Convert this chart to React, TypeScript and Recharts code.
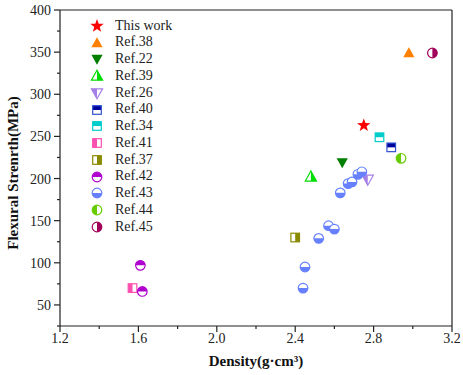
import React from "react";
import {
  ScatterChart,
  Scatter,
  XAxis,
  YAxis,
  ReferenceLine,
  Legend,
} from "recharts";

const FONT = "Liberation Serif, Times New Roman, serif";
const AXIS = "#222";

// ticks (minor + major)
const X_TICKS = [1.2, 1.4, 1.6, 1.8, 2.0, 2.2, 2.4, 2.6, 2.8, 3.0, 3.2];
const Y_TICKS = [25, 50, 75, 100, 125, 150, 175, 200, 225, 250, 275, 300, 325, 350, 375, 400];

// density (g/cm3) vs flexural strength (MPa)
const THIS_WORK = [{ x: 2.75, y: 263 }];
const REF38 = [{ x: 2.98, y: 349 }];
const REF22 = [{ x: 2.64, y: 219 }];
const REF39 = [{ x: 2.48, y: 202 }];
const REF26 = [{ x: 2.77, y: 199 }];
const REF40 = [{ x: 2.89, y: 237 }];
const REF34 = [{ x: 2.83, y: 249 }];
const REF41 = [{ x: 1.57, y: 70 }];
const REF37 = [{ x: 2.4, y: 130 }];
const REF42 = [
  { x: 1.61, y: 97 },
  { x: 1.62, y: 66 },
];
const REF43 = [
  { x: 2.44, y: 70 },
  { x: 2.45, y: 95 },
  { x: 2.52, y: 129 },
  { x: 2.57, y: 144 },
  { x: 2.6, y: 140 },
  { x: 2.63, y: 183 },
  { x: 2.67, y: 194 },
  { x: 2.69, y: 196 },
  { x: 2.72, y: 205 },
  { x: 2.74, y: 208 },
];
const REF44 = [{ x: 2.94, y: 224 }];
const REF45 = [{ x: 3.1, y: 349 }];

type Shape = "star" | "triUp" | "triDown" | "square" | "circle";
type Half = "full" | "top" | "bottom" | "left" | "right";

const SERIES: {
  name: string;
  data: { x: number; y: number }[];
  shape: Shape;
  half: Half;
  color: string;
  stroke?: string;
}[] = [
  { name: "This work", data: THIS_WORK, shape: "star", half: "full", color: "#FF0000" },
  { name: "Ref.38", data: REF38, shape: "triUp", half: "full", color: "#FF8000" },
  { name: "Ref.22", data: REF22, shape: "triDown", half: "full", color: "#007F00" },
  { name: "Ref.39", data: REF39, shape: "triUp", half: "right", color: "#00DD00" },
  { name: "Ref.26", data: REF26, shape: "triDown", half: "left", color: "#A67FE6" },
  { name: "Ref.40", data: REF40, shape: "square", half: "top", color: "#00009C", stroke: "#3050D0" },
  { name: "Ref.34", data: REF34, shape: "square", half: "top", color: "#00CCCC" },
  { name: "Ref.41", data: REF41, shape: "square", half: "left", color: "#FF4FAF" },
  { name: "Ref.37", data: REF37, shape: "square", half: "right", color: "#8A8A00" },
  { name: "Ref.42", data: REF42, shape: "circle", half: "top", color: "#B000D0" },
  { name: "Ref.43", data: REF43, shape: "circle", half: "bottom", color: "#6680FF" },
  { name: "Ref.44", data: REF44, shape: "circle", half: "left", color: "#66CC00" },
  { name: "Ref.45", data: REF45, shape: "circle", half: "right", color: "#A0005A" },
];

function Marker({
  cx,
  cy,
  shape,
  half,
  color,
  stroke,
}: {
  cx: number;
  cy: number;
  shape: Shape;
  half: Half;
  color: string;
  stroke?: string;
}) {
  const line = stroke || color;
  const sw = 1.2;

  if (shape === "star") {
    const pts: string[] = [];
    for (let i = 0; i < 10; i++) {
      const r = i % 2 === 0 ? 7 : 2.9;
      const a = -Math.PI / 2 + (i * Math.PI) / 5;
      pts.push(`${cx + r * Math.cos(a)},${cy + r * Math.sin(a)}`);
    }
    return <polygon points={pts.join(" ")} fill={color} />;
  }

  if (shape === "circle") {
    const r = 4.8;
    let d = "";
    if (half === "top") d = `M${cx - r},${cy} A${r},${r} 0 0 1 ${cx + r},${cy} Z`;
    if (half === "bottom") d = `M${cx - r},${cy} A${r},${r} 0 0 0 ${cx + r},${cy} Z`;
    if (half === "left") d = `M${cx},${cy - r} A${r},${r} 0 0 0 ${cx},${cy + r} Z`;
    if (half === "right") d = `M${cx},${cy - r} A${r},${r} 0 0 1 ${cx},${cy + r} Z`;
    return (
      <g>
        <circle cx={cx} cy={cy} r={r} fill={half === "full" ? color : "#fff"} />
        {d && <path d={d} fill={color} />}
        <circle cx={cx} cy={cy} r={r} fill="none" stroke={line} strokeWidth={sw} />
      </g>
    );
  }

  if (shape === "square") {
    const s = 4.3;
    let part = null;
    if (half === "top") part = <rect x={cx - s} y={cy - s} width={2 * s} height={s} fill={color} />;
    if (half === "bottom") part = <rect x={cx - s} y={cy} width={2 * s} height={s} fill={color} />;
    if (half === "left") part = <rect x={cx - s} y={cy - s} width={s} height={2 * s} fill={color} />;
    if (half === "right") part = <rect x={cx} y={cy - s} width={s} height={2 * s} fill={color} />;
    return (
      <g>
        <rect x={cx - s} y={cy - s} width={2 * s} height={2 * s} fill={half === "full" ? color : "#fff"} />
        {part}
        <rect x={cx - s} y={cy - s} width={2 * s} height={2 * s} fill="none" stroke={line} strokeWidth={sw} />
      </g>
    );
  }

  // triangles
  const w = 5.6;
  const h1 = 5.8;
  const h2 = 4.2;
  const up = shape === "triUp";
  const apex = up ? [cx, cy - h1] : [cx, cy + h1];
  const by = up ? cy + h2 : cy - h2;
  const full = `${apex[0]},${apex[1]} ${cx + w},${by} ${cx - w},${by}`;
  let halfPts = "";
  if (half === "right") halfPts = `${apex[0]},${apex[1]} ${cx + w},${by} ${cx},${by}`;
  if (half === "left") halfPts = `${apex[0]},${apex[1]} ${cx},${by} ${cx - w},${by}`;
  return (
    <g>
      <polygon points={full} fill={half === "full" ? color : "#fff"} />
      {halfPts && <polygon points={halfPts} fill={color} />}
      {half !== "full" && (
        <polygon points={full} fill="none" stroke={line} strokeWidth={sw} strokeLinejoin="miter" />
      )}
    </g>
  );
}

function XTick(props: any) {
  const { x, y, payload, index } = props;
  const major = index % 2 === 0;
  return (
    <g>
      <line x1={x} x2={x} y1={y} y2={y + (major ? 6 : 3)} stroke={AXIS} strokeWidth={1.2} />
      {major && (
        <text x={x} y={y + 17} textAnchor="middle" fontFamily={FONT} fontSize={14} fill="#222">
          {Number(payload.value).toFixed(1)}
        </text>
      )}
    </g>
  );
}

function YTick(props: any) {
  const { x, y, payload } = props;
  const major = payload.value % 50 === 0;
  return (
    <g>
      <line x1={x} x2={x - (major ? 6 : 3)} y1={y} y2={y} stroke={AXIS} strokeWidth={1.2} />
      {major && (
        <text x={x - 9} y={y + 5} textAnchor="end" fontFamily={FONT} fontSize={14} fill="#222">
          {payload.value}
        </text>
      )}
    </g>
  );
}

function YTitle() {
  return (
    <text
      x={13}
      y={173}
      transform="rotate(-90 13 173)"
      textAnchor="middle"
      dominantBaseline="central"
      fontFamily={FONT}
      fontSize={15}
      fontWeight="bold"
      fill="#111"
    >
      Flexural Strenrth(MPa)
    </text>
  );
}

function XTitle() {
  return (
    <text x={256} y={366} textAnchor="middle" fontFamily={FONT} fontSize={15} fontWeight="bold" fill="#111">
      Density(g·cm³)
    </text>
  );
}

const renderLegend = () => (
  <div style={{ fontFamily: FONT, fontSize: 14, color: "#222" }}>
    {SERIES.map((s) => (
      <div key={s.name} style={{ display: "flex", alignItems: "center", height: 16.75, lineHeight: "16.75px" }}>
        <svg width={18} height={16} style={{ marginRight: 9, overflow: "visible" }}>
          <Marker cx={9} cy={8} shape={s.shape} half={s.half} color={s.color} stroke={s.stroke} />
        </svg>
        <span style={{ whiteSpace: "nowrap" }}>{s.name}</span>
      </div>
    ))}
  </div>
);

export default function App() {
  return (
    <div style={{ position: "absolute", left: 0, top: 0, width: 463, height: 375, background: "#fff" }}>
      <ScatterChart width={463} height={375} margin={{ top: 10, right: 11, bottom: 0, left: 0 }}>
        <XAxis
          type="number"
          dataKey="x"
          domain={[1.2, 3.2]}
          ticks={X_TICKS}
          interval={0}
          height={49}
          tickSize={0}
          tickMargin={0}
          tickLine={false}
          tick={<XTick />}
          stroke={AXIS}
          strokeWidth={1.2}
          allowDataOverflow
          label={<XTitle />}
        />
        <YAxis
          type="number"
          dataKey="y"
          domain={[25, 400]}
          ticks={Y_TICKS}
          interval={0}
          width={60}
          tickSize={0}
          tickMargin={0}
          tickLine={false}
          tick={<YTick />}
          stroke={AXIS}
          strokeWidth={1.2}
          allowDataOverflow
          label={<YTitle />}
        />
        <ReferenceLine y={400} stroke={AXIS} strokeWidth={1.2} />
        <ReferenceLine x={3.2} stroke={AXIS} strokeWidth={1.2} />
        {SERIES.map((s) => (
          <Scatter
            key={s.name}
            name={s.name}
            data={s.data}
            fill={s.color}
            isAnimationActive={false}
            shape={(p: any) => (
              <Marker cx={p.cx} cy={p.cy} shape={s.shape} half={s.half} color={s.color} stroke={s.stroke} />
            )}
          />
        ))}
        <Legend
          layout="vertical"
          align="center"
          verticalAlign="middle"
          content={renderLegend}
          wrapperStyle={{ top: 17.6, left: 88, width: 120, height: 218 }}
        />
      </ScatterChart>
    </div>
  );
}
